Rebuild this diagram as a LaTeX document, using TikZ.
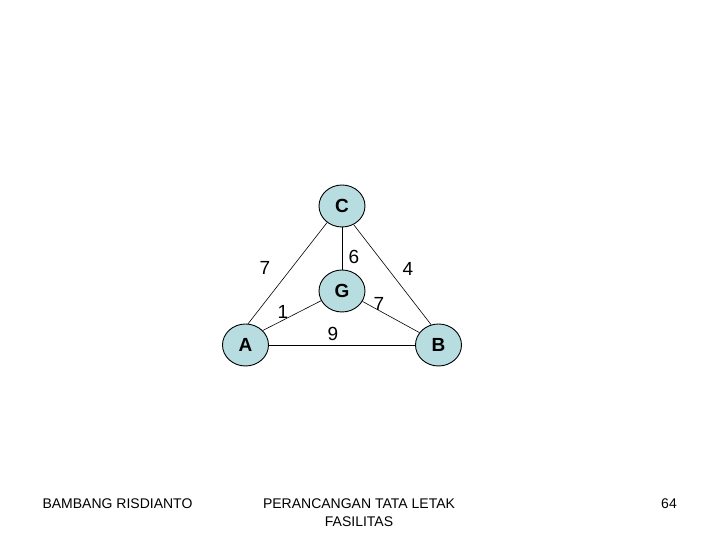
\documentclass[tikz,border=0pt]{standalone}
\usepackage{fontspec}
\setmainfont{Liberation Sans}
\usepackage{xcolor}
\usepackage{tikz}
\usetikzlibrary{shapes.geometric}
\definecolor{nodefill}{HTML}{B7DDE0}
\tikzset{
  facility/.style={draw=black, line width=0.9pt, ellipse, fill=nodefill, minimum width=46pt, minimum height=42pt, inner sep=0pt, font=\fontsize{19}{21}\selectfont\bfseries},
  weight/.style={font=\fontsize{19}{21}\selectfont, inner sep=0pt},
  footer/.style={font=\fontsize{14}{18}\selectfont, inner sep=0pt, align=center},
  link/.style={draw=black, line width=0.6pt}
}
\begin{document}
\begin{tikzpicture}[x=1pt, y=1pt]
  \useasboundingbox (0,0) rectangle (720,540);

  \node[facility] (C) at (342,334) {C};
  \node[facility] (G) at (342,249) {G};
  \node[facility] (A) at (245.5,195) {A};
  \node[facility] (B) at (438.5,195) {B};

  \draw[link] (C.228) -- (A.83);
  \draw[link] (C.south) -- (G.north);
  \draw[link] (C.302) -- (B.110);
  \draw[link] (G.205) -- (A.40);
  \draw[link] (G.333) -- (B.147);
  \draw[link] (A.east) -- (B.west);

  \node[weight] (wCA) at (265,272) {7};
  \node[weight] (wCG) at (354,283) {6};
  \node[weight] (wCB) at (408,271) {4};
  \node[weight] (wGA) at (283,228) {1};
  \node[weight] (wGB) at (379,236) {7};
  \node[weight] (wAB) at (333,206) {9};

  \node[footer] (author) at (117.5,36) {BAMBANG RISDIANTO};
  \node[footer] (title) at (359,27) {PERANCANGAN TATA LETAK\\FASILITAS};
  \node[footer] (page) at (669,36) {64};
\end{tikzpicture}
\end{document}
